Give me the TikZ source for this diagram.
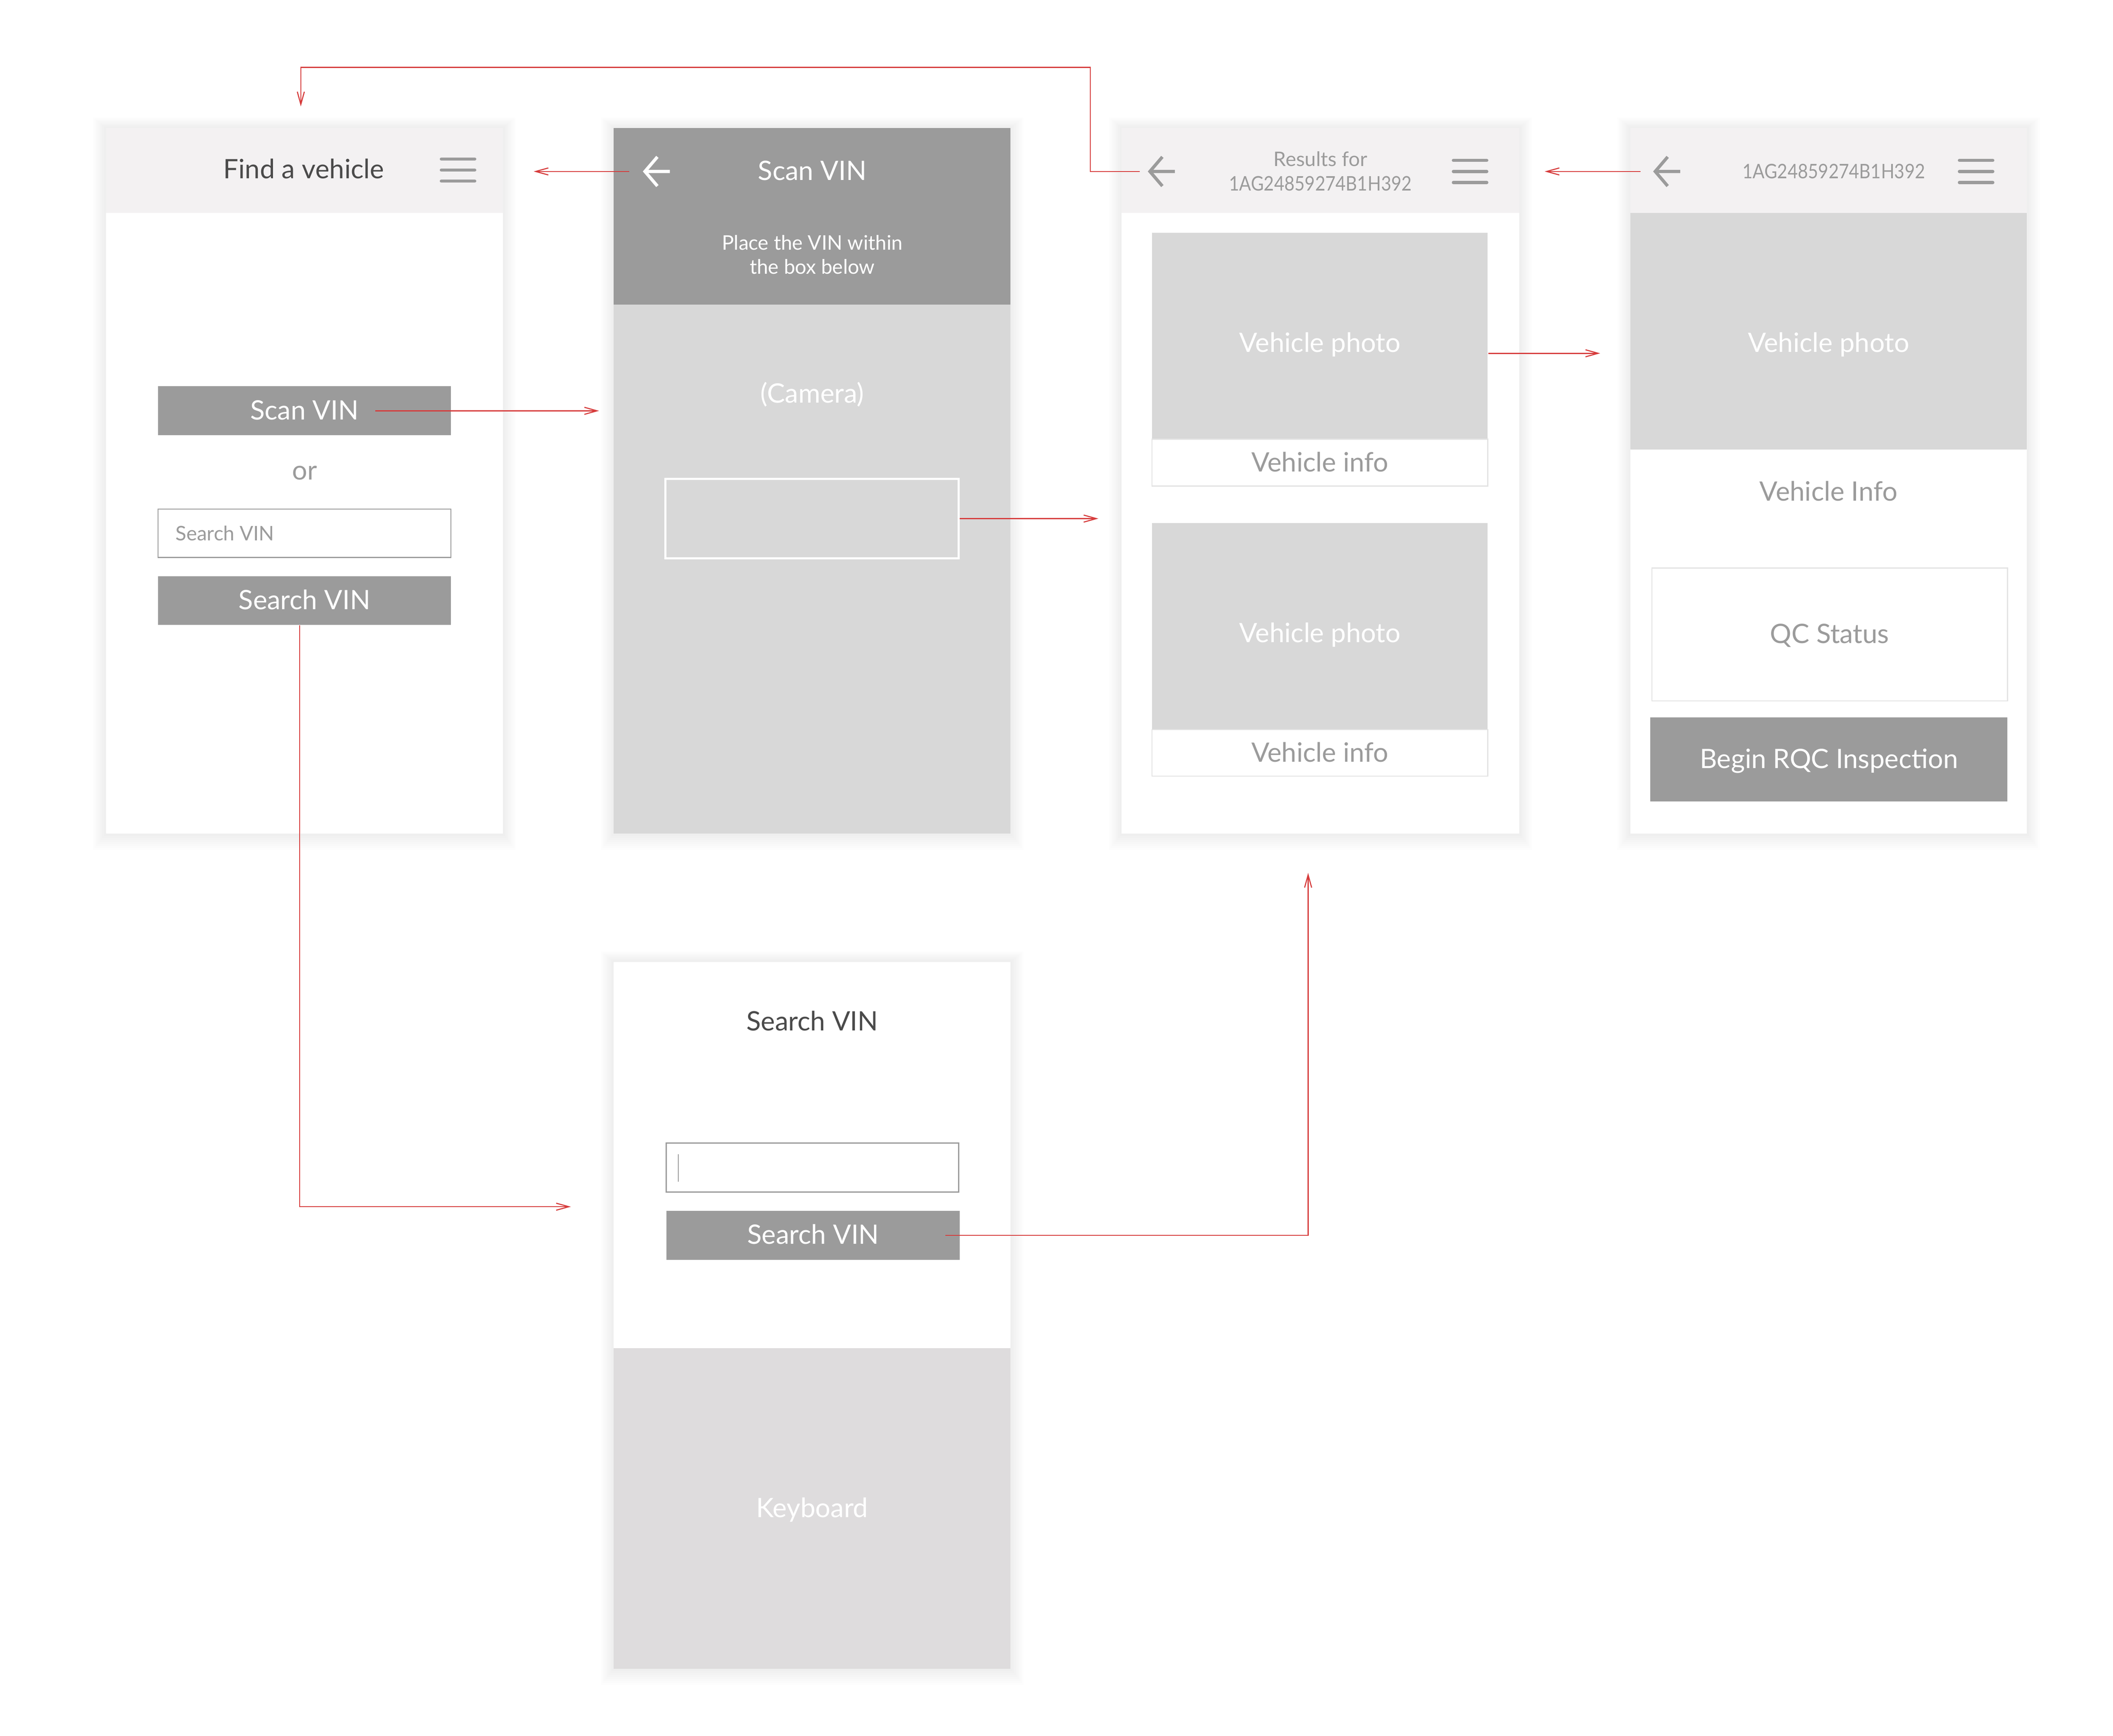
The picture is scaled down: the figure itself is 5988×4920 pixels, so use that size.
\documentclass[tikz,border=0pt]{standalone}
\usepackage{fontspec}
\setmainfont{Lato}
\usepackage{tikz}
\usetikzlibrary{positioning,fit,arrows.meta,backgrounds}

\definecolor{flowred}{HTML}{D63B3B}
\definecolor{dimgray}{HTML}{9B9B9B}
\definecolor{darktext}{HTML}{4A4A4A}
\definecolor{barbg}{HTML}{F3F1F2}
\definecolor{photogray}{HTML}{D8D8D8}
\definecolor{keygray}{HTML}{DEDCDD}
\definecolor{edgegray}{HTML}{E3E3E3}

\tikzset{
  screen/.style={inner sep=0pt, fill=white},
  header/.style={inner sep=0pt, fill=barbg},
  panel/.style={inner sep=0pt},
  bigtext/.style={font=\fontsize{10.8}{13}\selectfont, inner sep=0pt, text height=0.72em, text depth=0pt},
  smalltext/.style={font=\fontsize{8.1}{9.8}\selectfont, inner sep=0pt},
  button/.style={inner sep=0pt, fill=dimgray},
  field/.style={inner sep=0pt, fill=white, draw=dimgray, line width=0.45pt},
  photo/.style={inner sep=0pt, fill=photogray},
  info/.style={inner sep=0pt, fill=white, draw=edgegray, line width=0.4pt},
  backicon/.style={minimum width=0.34cm, minimum height=0.4cm, inner sep=0pt},
  menuicon/.style={minimum width=0.46cm, minimum height=0.3cm, inner sep=0pt},
  glyph/.style={line width=1.28pt, draw=dimgray},
  flow/.style={draw=flowred, line width=0.43pt, -{Straight Barb[length=1.8mm, width=1mm]}}
}
\newcommand\vinno{\scalebox{0.88}[1]{1AG24859274B1H392}}

\begin{document}
\begin{tikzpicture}[x=0.005cm, y=-0.005cm]
  \useasboundingbox (0,0) rectangle (5988,4920);

  % Find a vehicle
  \node[screen, fit={(300,363) (1425,2363)}] (find) {};
  \node[header, fit={(300,363) (1425,603)}] (find_hdr) {};
  \node[bigtext, text=darktext] (find_title) at (861,481) {Find a vehicle};
  \node[menuicon] (find_menu) at (1298,482) {};
  \node[button, fit={(448,1095) (1278,1234)}] (find_scan) {};
  \node[bigtext, text=white] (find_scan_lbl) at (find_scan) {Scan VIN};
  \node[bigtext, text=dimgray] (find_or) at (863,1334) {or};
  \node[field, fit={(448,1443) (1278,1580)}] (find_field) {};
  \node[smalltext, text=dimgray, anchor=west] (find_hint) at (496,1512) {Search VIN};
  \node[button, fit={(448,1633) (1278,1771)}] (find_search) {};
  \node[bigtext, text=white] (find_search_lbl) at (find_search) {Search VIN};

  % Scan VIN
  \node[screen, fill=photogray, fit={(1739,363) (2864,2363)}] (scan) {};
  \node[panel, fill=dimgray, fit={(1739,363) (2864,863)}] (scan_hdr) {};
  \node[backicon] (scan_back) at (1863,486) {};
  \node[bigtext, text=white] (scan_title) at (2302,486) {Scan VIN};
  \node[smalltext, text=white, align=center] (scan_hint) at (2302,722) {Place the VIN within\\the box below};
  \node[bigtext, text=white] (scan_cam) at (2302,1116) {(Camera)};
  \node[panel, draw=white, line width=0.85pt, fit={(1886,1358) (2717,1582)}] (scan_box) {};

  % Results
  \node[screen, fit={(3179,363) (4305,2363)}] (results) {};
  \node[header, fit={(3179,363) (4305,603)}] (res_hdr) {};
  \node[backicon] (res_back) at (3294,486) {};
  \node[smalltext, text=dimgray, align=center] (res_title) at (3742,485) {Results for\\\vinno};
  \node[menuicon] (res_menu) at (4166,486) {};
  \node[photo, fit={(3265,660) (4216,1245)}] (res_photo_a) {};
  \node[bigtext, text=white] at ([yshift=-0.1cm]res_photo_a) {Vehicle photo};
  \node[info, fit={(3265,1245) (4216,1378)}] (res_info_a) {};
  \node[bigtext, text=dimgray] at (res_info_a) {Vehicle info};
  \node[photo, fit={(3265,1483) (4216,2068)}] (res_photo_b) {};
  \node[bigtext, text=white] at ([yshift=-0.1cm]res_photo_b) {Vehicle photo};
  \node[info, fit={(3265,2068) (4216,2200)}] (res_info_b) {};
  \node[bigtext, text=dimgray] at (res_info_b) {Vehicle info};

  % Vehicle detail
  \node[screen, fit={(4620,363) (5744,2363)}] (detail) {};
  \node[header, fit={(4620,363) (5744,603)}] (det_hdr) {};
  \node[backicon] (det_back) at (4726,486) {};
  \node[smalltext, text=dimgray] (det_title) at (5197,486) {\vinno};
  \node[menuicon] (det_menu) at (5600,486) {};
  \node[photo, fit={(4620,603) (5744,1274)}] (det_photo) {};
  \node[bigtext, text=white] at ([yshift=-0.175cm]det_photo) {Vehicle photo};
  \node[bigtext, text=dimgray] (det_info) at (5182,1395) {Vehicle Info};
  \node[info, fit={(4681,1610) (5689,1987)}] (det_qc) {};
  \node[bigtext, text=dimgray] at (det_qc) {QC Status};
  \node[button, fit={(4677,2033) (5689,2272)}] (det_begin) {};
  \node[bigtext, text=white] at (det_begin) {Begin RQC Inspection};

  % Search VIN
  \node[screen, fit={(1739,2727) (2864,4730)}] (search) {};
  \node[panel, fill=keygray, fit={(1739,3822) (2864,4730)}] (search_keys) {};
  \node[bigtext, text=white] at (search_keys) {Keyboard};
  \node[bigtext, text=darktext] (search_title) at (2302,2896) {Search VIN};
  \node[field, fit={(1888,3240) (2717,3379)}] (search_field) {};
  \draw[dimgray, line width=0.4pt] (1922,3272) -- (1922,3350);
  \node[button, fit={(1889,3432) (2720,3571)}] (search_btn) {};
  \node[bigtext, text=white] at (search_btn) {Search VIN};

  % icons
  \foreach \b/\c in {scan_back/white, res_back/dimgray, det_back/dimgray}
    \draw[glyph, draw=\c] (\b.north) -- (\b.west) -- (\b.south) (\b.west) -- (\b.east);
  \foreach \m in {find_menu, res_menu, det_menu}
    \draw[glyph, line cap=round] (\m.north west) -- (\m.north east) (\m.west) -- (\m.east) (\m.south west) -- (\m.south east);

  % soft shadows
  \begin{scope}[on background layer]
    \foreach \s in {find, scan, results, detail, search}
      \foreach \r in {1,...,8}
        \fill[black, opacity=0.006] ([shift={(-\r*0.022cm,\r*0.018cm)}]\s.north west) rectangle ([shift={(\r*0.022cm,-\r*0.028cm)}]\s.south east);
  \end{scope}

  % flow
  \coordinate (top_turn) at (3090,191);
  \coordinate (photo_out) at ([yshift=-0.245cm]res_photo_a.east);
  \coordinate (search_gap) at ([yshift=-0.2cm]search_field.south);
  \draw[flow, shorten <=0.145cm, shorten >=0.3cm] (res_back.west) -| (top_turn) -| ([xshift=-0.05cm]find.north);
  \draw[flow, shorten <=0.22cm, shorten >=0.43cm] (scan_back.west) -- (find.east |- scan_back.west);
  \draw[flow, shorten >=0.2cm] ([xshift=-1.08cm]find_scan.east) -- (scan.west |- find_scan.east);
  \draw[flow, shorten >=0.325cm] (scan_box.east) -- (results.west |- scan_box.east);
  \draw[flow, shorten >=0.42cm] (photo_out) -- (detail.west |- photo_out);
  \draw[flow, shorten <=0.21cm, shorten >=0.355cm] (det_back.west) -- (results.east |- det_back.west);
  \draw[flow, shorten >=0.6cm] ([xshift=-0.07cm]find_search.south) |- (search.west |- search_gap);
  \draw[flow, shorten <=-0.21cm, shorten >=0.55cm] (search_btn.east) -| ([xshift=-0.175cm]results.south);
\end{tikzpicture}
\end{document}
